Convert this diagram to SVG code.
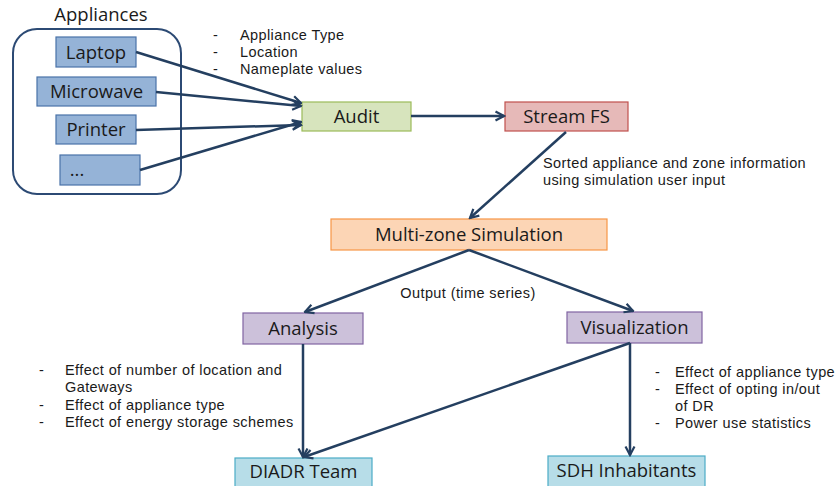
<svg xmlns="http://www.w3.org/2000/svg" width="837" height="486" viewBox="0 0 837 486">
  <defs>
    <marker id="arrow" viewBox="0 0 12 12" refX="10.5" refY="6" markerWidth="12" markerHeight="12" markerUnits="userSpaceOnUse" orient="auto">
      <path d="M2,1.5 L10.5,6 L2,10.5" fill="none" stroke="#243f60" stroke-width="2.2" stroke-linejoin="miter"/>
    </marker>
  </defs>
  <style>
    text { font-family: "Open Sans", "Liberation Sans", Arial, sans-serif; fill: #1a1a1a; }
    .lbl { font-size: 18.5px; text-anchor: middle; }
    .note { font-family: "Liberation Sans", Arial, sans-serif; font-size: 14.5px; letter-spacing: 0.4px; }
    .blue { fill: #95b3d7; stroke: #4a72a8; stroke-width: 1.2; }
    .green { fill: #d7e4bd; stroke: #9bbb59; stroke-width: 1.2; }
    .red { fill: #e6b9b8; stroke: #c0504d; stroke-width: 1.2; }
    .orange { fill: #fcd5b5; stroke: #f79646; stroke-width: 1.2; }
    .purple { fill: #ccc1da; stroke: #8064a2; stroke-width: 1.2; }
    .cyan { fill: #b7dde8; stroke: #4bacc6; stroke-width: 1.2; }
    .edge { fill: none; stroke: #243f60; stroke-width: 2.5; marker-end: url(#arrow); }
  </style>
  <rect width="837" height="486" fill="#ffffff"/>

  <!-- appliance group -->
  <g id="appliances">
    <text class="lbl" x="101" y="21" font-size="19">Appliances</text>
    <rect x="13" y="29" width="168" height="165" rx="24" fill="none" stroke="#2c4a74" stroke-width="2"/>
  </g>
  <g id="laptop">
    <rect class="blue" x="56" y="37" width="80" height="30"/>
    <text class="lbl" x="96" y="58.5">Laptop</text>
  </g>
  <g id="microwave">
    <rect class="blue" x="37" y="77" width="119" height="29"/>
    <text class="lbl" x="96.5" y="98">Microwave</text>
  </g>
  <g id="printer">
    <rect class="blue" x="56" y="115" width="80" height="29"/>
    <text class="lbl" x="96" y="136">Printer</text>
  </g>
  <g id="more">
    <rect class="blue" x="60" y="155" width="80" height="30"/>
    <text class="lbl" x="77" y="176">...</text>
  </g>

  <g id="audit">
    <rect class="green" x="302" y="102" width="109" height="29"/>
    <text class="lbl" x="356.5" y="123">Audit</text>
  </g>
  <g id="streamfs">
    <rect class="red" x="505" y="102" width="123" height="29"/>
    <text class="lbl" x="566.5" y="123">Stream FS</text>
  </g>
  <g id="simulation">
    <rect class="orange" x="331" y="219" width="276" height="31"/>
    <text class="lbl" x="469" y="241">Multi-zone Simulation</text>
  </g>
  <g id="analysis">
    <rect class="purple" x="243" y="313" width="120" height="31"/>
    <text class="lbl" x="303" y="335">Analysis</text>
  </g>
  <g id="visualization">
    <rect class="purple" x="567" y="312" width="135" height="31"/>
    <text class="lbl" x="634.5" y="334">Visualization</text>
  </g>
  <g id="diadr">
    <rect class="cyan" x="235" y="458" width="137" height="34"/>
    <text class="lbl" x="303.5" y="478">DIADR Team</text>
  </g>
  <g id="sdh">
    <rect class="cyan" x="548" y="456" width="157" height="36"/>
    <text class="lbl" x="626.5" y="477">SDH Inhabitants</text>
  </g>

  <!-- connectors -->
  <g id="connectors">
    <line class="edge" x1="136" y1="52" x2="301" y2="103"/>
    <line class="edge" x1="156" y1="92" x2="301" y2="106"/>
    <line class="edge" x1="136" y1="130" x2="301" y2="125"/>
    <line class="edge" x1="140" y1="170" x2="301" y2="122"/>
    <line class="edge" x1="411" y1="116" x2="504" y2="116"/>
    <line class="edge" x1="566" y1="132" x2="470" y2="218"/>
    <line class="edge" x1="469" y1="250" x2="305" y2="312"/>
    <line class="edge" x1="469" y1="250" x2="633" y2="311"/>
    <line class="edge" x1="303" y1="344" x2="303" y2="457"/>
    <line class="edge" x1="630" y1="343" x2="304" y2="457"/>
    <line class="edge" x1="630" y1="343" x2="630" y2="455"/>
  </g>

  <!-- annotations: one text block per bullet list -->
  <text id="audit-notes" class="note">
    <tspan x="213" y="40">-</tspan><tspan x="240" y="40">Appliance Type</tspan>
    <tspan x="213" y="57">-</tspan><tspan x="240" y="57">Location</tspan>
    <tspan x="213" y="74">-</tspan><tspan x="240" y="74">Nameplate values</tspan>
  </text>
  <text id="stream-notes" class="note">
    <tspan x="543" y="168">Sorted appliance and zone information</tspan>
    <tspan x="543" y="185">using simulation user input</tspan>
  </text>
  <text id="output-note" class="note" x="468" y="298" text-anchor="middle">Output (time series)</text>
  <text id="analysis-notes" class="note">
    <tspan x="39" y="375">-</tspan><tspan x="65" y="375">Effect of number of location and</tspan>
    <tspan x="65" y="392">Gateways</tspan>
    <tspan x="39" y="410">-</tspan><tspan x="65" y="410">Effect of appliance type</tspan>
    <tspan x="39" y="427">-</tspan><tspan x="65" y="427">Effect of energy storage schemes</tspan>
  </text>
  <text id="visualization-notes" class="note">
    <tspan x="655" y="377">-</tspan><tspan x="675" y="377">Effect of appliance type</tspan>
    <tspan x="655" y="394">-</tspan><tspan x="675" y="394">Effect of opting in/out</tspan>
    <tspan x="675" y="411">of DR</tspan>
    <tspan x="655" y="428">-</tspan><tspan x="675" y="428">Power use statistics</tspan>
  </text>
</svg>
